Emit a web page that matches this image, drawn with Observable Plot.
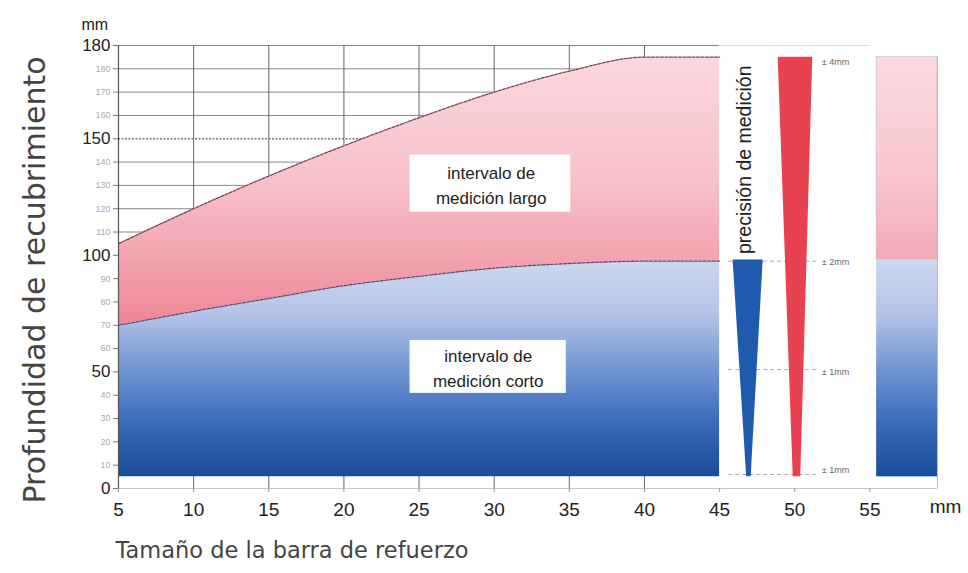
<!DOCTYPE html>
<html><head><meta charset="utf-8">
<script src="https://cdn.jsdelivr.net/npm/d3@7"></script>
<script src="https://cdn.jsdelivr.net/npm/@observablehq/plot@0.6"></script>
<style>body{margin:0;background:#fff}</style>
</head><body><div id="chart"></div>
<script>
// ---- data ----
const barSize    = [5, 10, 15, 20, 25, 30, 35, 40, 45];
const longUpper  = [105, 120, 134, 147, 159, 170, 179, 185, 185];
const shortUpper = [70, 76, 81.5, 87, 91, 94.5, 96.5, 97.5, 97.5];
const shortLower = 5;
const xTicks = [5, 10, 15, 20, 25, 30, 35, 40, 45, 50, 55];
const yMajorTicks  = [0, 50, 100, 150, 190];
const yMajorLabels = ["0", "50", "100", "150", "180"];
const yMinorTicks  = [10, 20, 30, 40, 60, 70, 80, 90, 110, 120, 130, 140, 160, 170, 180];
const gridX = [10, 15, 20, 25, 30, 35, 40];
const gridY = [110, 120, 130, 140, 160, 170, 180, 190];
const gridYDotted = [150];
const blueWedge = [{y: 98, x1: 45.9, x2: 47.9}, {y: 5, x1: 46.8, x2: 47.1}];
const redWedge  = [{y: 185, x1: 48.9, x2: 51.2}, {y: 5, x1: 49.9, x2: 50.4}];
const precisionLines  = [97.5, 51, 6];
const precisionLabels = [{y: 183, t: "± 4mm"}, {y: 97, t: "± 2mm"}, {y: 50, t: "± 1mm"}, {y: 8, t: "± 1mm"}];
const rightBarX = [55.45, 59.5];
const rangeTop = 185, rangeSplit = 98;
const labelBoxes = [
  {x1: 24.4, x2: 35.1, y1: 118.5, y2: 143, cx: 29.8, cy: 130.8, t: "intervalo de\nmedición largo"},
  {x1: 24.4, x2: 34.8, y1: 40.8, y2: 63.5, cx: 29.6, cy: 52.2, t: "intervalo de\nmedición corto"}
];

const table = barSize.map((x, i) => ({x, lo: shortLower, mid: shortUpper[i], hi: longUpper[i]}));

const defs = (index, scales) => {
  const y = scales.y;
  const d = d3.create("svg:defs");
  const pg = d.append("linearGradient").attr("id", "pinkGrad").attr("gradientUnits", "userSpaceOnUse")
    .attr("x1", 0).attr("x2", 0).attr("y1", y(185)).attr("y2", y(70));
  [[0, "#fbd7dd"], [0.45, "#f8c2cb"], [0.75, "#f4a3b0"], [1, "#ee8596"]].forEach(([o, c]) =>
    pg.append("stop").attr("offset", o).attr("stop-color", c));
  const pg2 = d.append("linearGradient").attr("id", "pinkGrad2").attr("gradientUnits", "userSpaceOnUse")
    .attr("x1", 0).attr("x2", 0).attr("y1", y(185)).attr("y2", y(98));
  [[0, "#fbd9df"], [0.6, "#f8c6ce"], [1, "#f3aab6"]].forEach(([o, c]) =>
    pg2.append("stop").attr("offset", o).attr("stop-color", c));
  const bg = d.append("linearGradient").attr("id", "blueGrad").attr("gradientUnits", "userSpaceOnUse")
    .attr("x1", 0).attr("x2", 0).attr("y1", y(98)).attr("y2", y(5));
  [[0, "#cdd8f0"], [0.25, "#b4c4e8"], [0.5, "#7396d3"], [0.75, "#3a6bbb"], [1, "#1a4c9c"]].forEach(([o, c]) =>
    bg.append("stop").attr("offset", o).attr("stop-color", c));
  return d.node();
};

const font = "'Liberation Sans', Arial, sans-serif";

const chart = Plot.plot({
  width: 968, height: 573,
  marginLeft: 118, marginRight: 31, marginTop: 45, marginBottom: 85,
  x: {domain: [5, 59.5], axis: null},
  y: {domain: [0, 190], axis: null},
  style: {fontFamily: font, background: "#fff", color: "#222", overflow: "visible"},
  marks: [
    defs,
    // grid
    Plot.ruleY(gridY, {x1: 5, x2: 45, stroke: "#8a8a8a", strokeWidth: 1}),
    Plot.ruleY(gridYDotted, {x1: 5, x2: 45, stroke: "#777", strokeWidth: 1.3, strokeDasharray: "2,1.5"}),
    Plot.ruleY([190], {x1: 45, x2: 55, stroke: "#ddd"}),
    Plot.ruleX(gridX, {y1: 0, y2: 190, stroke: "#666", strokeWidth: 1}),
    // areas
    Plot.areaY(table, {x: "x", y1: "mid", y2: "hi", fill: "url(#pinkGrad)", curve: "monotone-x"}),
    Plot.areaY(table, {x: "x", y1: "lo", y2: "mid", fill: "url(#blueGrad)", curve: "monotone-x"}),
    Plot.line(table, {x: "x", y: "hi", stroke: "#7a4a5c", strokeWidth: 1.3, strokeDasharray: "3,1.5", curve: "monotone-x"}),
    Plot.line(table, {x: "x", y: "mid", stroke: "#6a4a66", strokeWidth: 1.3, strokeDasharray: "3,1.5", curve: "monotone-x"}),
    // right bar
    Plot.rect([{x1: rightBarX[0], x2: rightBarX[1], y1: rangeSplit, y2: rangeTop}], {x1: "x1", x2: "x2", y1: "y1", y2: "y2", fill: "url(#pinkGrad2)", stroke: "#bbb", strokeWidth: 0.6}),
    Plot.rect([{x1: rightBarX[0], x2: rightBarX[1], y1: shortLower, y2: rangeSplit}], {x1: "x1", x2: "x2", y1: "y1", y2: "y2", fill: "url(#blueGrad)"}),
    Plot.ruleX([rightBarX[1]], {y1: 0, y2: rangeTop, stroke: "#bbb"}),
    // precision lines
    Plot.ruleY(precisionLines, {x1: 45.6, x2: 51.6, stroke: "#999", strokeWidth: 0.8, strokeDasharray: "4,3"}),
    Plot.areaX(blueWedge, {y: "y", x1: "x1", x2: "x2", fill: "#1f5aae"}),
    Plot.areaX(redWedge, {y: "y", x1: "x1", x2: "x2", fill: "#e8414f"}),
    Plot.text(precisionLabels, {x: 51.8, y: "y", text: "t", textAnchor: "start", fontSize: 9, fill: "#666"}),
    Plot.text(["precisión de medición"], {x: 46.7, y: 141, rotate: -90, fontSize: 19.5, fill: "#222"}),
    // label boxes
    Plot.rect(labelBoxes, {x1: "x1", x2: "x2", y1: "y1", y2: "y2", fill: "white"}),
    Plot.text(labelBoxes, {x: "cx", y: "cy", text: "t", fontSize: 17, lineHeight: 1.45, fill: "#222"}),
    // axes
    Plot.ruleY([0], {x1: 5, x2: 59.5, stroke: "#cfc8b8", strokeWidth: 1.2}),
    Plot.ruleX([5], {y1: 0, y2: 190, stroke: "#555", strokeWidth: 1.2}),
    Plot.axisX({ticks: xTicks, tickSize: 4, color: "#999", text: null}),
    Plot.axisX({ticks: xTicks, tickSize: 0, tickPadding: 14, fontSize: 19, color: "#222"}),
    Plot.axisY({ticks: [...yMajorTicks, ...yMinorTicks], tickSize: 5, color: "#777", text: null}),
    Plot.axisY({ticks: yMajorTicks, tickSize: 0, tickPadding: 8, fontSize: 17, color: "#222",
      tickFormat: d => yMajorLabels[yMajorTicks.indexOf(d)]}),
    Plot.axisY({ticks: yMinorTicks, tickSize: 0, tickPadding: 8, fontSize: 9, color: "#aaa"}),
    // unit and titles
    Plot.text(["mm"], {frameAnchor: "top-left", dx: -37, dy: -27, textAnchor: "start", fontSize: 16, fill: "#222"}),
    Plot.text(["mm"], {frameAnchor: "bottom-right", dx: 8, dy: 24, textAnchor: "middle", fontSize: 19, fill: "#222"}),
    Plot.text(["Profundidad de recubrimiento"], {frameAnchor: "left", textAnchor: "middle", rotate: -90, dx: -83, dy: 13, fontSize: 30, fill: "#444", fontFamily: "'DejaVu Sans', sans-serif"}),
    Plot.text(["Tamaño de la barra de refuerzo"], {frameAnchor: "bottom-left", dx: -3, dy: 69, textAnchor: "start", fontSize: 22.5, fill: "#444", fontFamily: "'DejaVu Sans', sans-serif"})
  ]
});
document.getElementById("chart").append(chart);
</script>
</body></html>
